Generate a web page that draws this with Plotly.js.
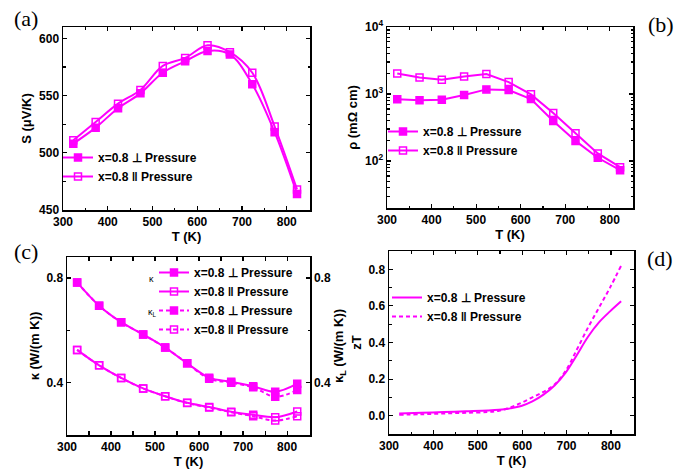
<!DOCTYPE html>
<html>
<head>
<meta charset="utf-8">
<script src="https://cdn.plot.ly/plotly-3.0.1.min.js"></script>
<style>html,body{margin:0;padding:0;background:#fff;}#chart{width:679px;height:472px;}</style>
</head>
<body>
<div id="chart"></div>
<script>
// ---- data ----
const T = [323, 373, 423, 473, 523, 573, 623, 673, 723, 773, 823];
const S_perp = [508, 522, 539, 552, 570, 580, 589, 586, 560, 518, 464];
const S_par = [511, 527, 543, 555, 576, 583, 594, 588, 570, 523, 468];
const rho_perp = [833, 806, 824, 967, 1173, 1146, 843, 397, 200, 112, 73];
const rho_par = [2026, 1770, 1632, 1829, 1982, 1507, 989, 522, 261, 130, 81];
const kappa_perp = [0.783, 0.694, 0.631, 0.584, 0.534, 0.474, 0.419, 0.403, 0.386, 0.365, 0.396];
const kappa_par = [0.525, 0.466, 0.418, 0.378, 0.348, 0.323, 0.307, 0.289, 0.277, 0.268, 0.290];
const kappaL_perp = [0.783, 0.694, 0.631, 0.584, 0.534, 0.474, 0.415, 0.400, 0.382, 0.346, 0.372];
const kappaL_par = [0.525, 0.466, 0.418, 0.378, 0.348, 0.322, 0.305, 0.287, 0.272, 0.255, 0.272];
const T_zT = [323, 373, 423, 473, 523, 548, 573, 598, 623, 648, 673, 698, 723, 748, 773, 798, 823];
const zT_perp = [0.012, 0.016, 0.020, 0.024, 0.028, 0.032, 0.040, 0.053, 0.078, 0.115, 0.165, 0.235, 0.330, 0.430, 0.510, 0.570, 0.625];
const zT_par = [0.005, 0.008, 0.012, 0.016, 0.020, 0.027, 0.045, 0.070, 0.100, 0.130, 0.170, 0.245, 0.360, 0.480, 0.590, 0.700, 0.820];
const labelPerp = 'x=0.8 \u22A5 Pressure';
const labelPar = 'x=0.8 \u2016 Pressure';

// ---- style ----
const MAG = '#ff00ff';
const FONT = 'Liberation Sans, Arial, sans-serif';
const W = 679, H = 472;
const px = v => v / W;
const py = v => 1 - v / H;

function tr(x, y, xa, ya, name, filled, dash, legend, spline, showMarker) {
  return {
    x: x, y: y, xaxis: xa, yaxis: ya, name: name, legend: legend,
    type: 'scatter',
    mode: showMarker === false ? 'lines' : 'lines+markers',
    line: {color: MAG, width: 2, dash: dash || 'solid', shape: spline ? 'spline' : 'linear'},
    marker: {symbol: filled ? 'square' : 'square-open', size: 7, color: MAG, line: {color: MAG, width: 1.5}}
  };
}

const data = [
  tr(T, S_perp, 'x', 'y', labelPerp, true, 'solid', 'legend', true),
  tr(T, S_par, 'x', 'y', labelPar, false, 'solid', 'legend', true),
  tr(T, rho_perp, 'x2', 'y2', labelPerp, true, 'solid', 'legend2', false),
  tr(T, rho_par, 'x2', 'y2', labelPar, false, 'solid', 'legend2', false),
  tr(T, kappa_perp, 'x3', 'y3', labelPerp, true, 'solid', 'legend3', true),
  tr(T, kappa_par, 'x3', 'y3', labelPar, false, 'solid', 'legend3', true),
  tr(T, kappaL_perp, 'x3', 'y5', labelPerp, true, '4px,3px', 'legend3', true),
  tr(T, kappaL_par, 'x3', 'y5', labelPar, false, '4px,3px', 'legend3', true),
  tr(T_zT, zT_perp, 'x4', 'y4', labelPerp, true, 'solid', 'legend4', true, false),
  tr(T_zT, zT_par, 'x4', 'y4', labelPar, false, '4px,3px', 'legend4', true, false)
];

const tickFont = {family: FONT, size: 12, color: '#000', weight: 'bold'};
const titleFont = {family: FONT, size: 13, color: '#000', weight: 'bold'};

function xax(dom, anchor) {
  return {
    domain: dom, anchor: anchor, range: [300, 852], dtick: 100, tick0: 300,
    ticks: 'inside', ticklen: 4, tickwidth: 1.2, tickcolor: '#000',
    showline: true, linecolor: '#000', linewidth: 1.5, mirror: 'allticks',
    showgrid: false, zeroline: false, tickfont: tickFont,
    minor: {ticks: 'inside', ticklen: 2.5, dtick: 50, tickcolor: '#000', showgrid: false},
    title: {text: 'T (K)', font: titleFont, standoff: 2}
  };
}
function yax(dom, anchor, range, dtick, minorD, title, fmt) {
  return {
    domain: dom, anchor: anchor, range: range, dtick: dtick, tickformat: fmt || '',
    ticks: 'inside', ticklen: 4, tickwidth: 1.2, tickcolor: '#000',
    showline: true, linecolor: '#000', linewidth: 1.5, mirror: 'allticks',
    showgrid: false, zeroline: false, tickfont: tickFont,
    minor: {ticks: 'inside', ticklen: 2.5, dtick: minorD, tickcolor: '#000', showgrid: false},
    title: {text: title, font: titleFont, standoff: 4}
  };
}

const yB = {
  domain: [py(208), py(27)], anchor: 'x2', type: 'log', range: [1.3, 4],
  tickvals: [100, 1000, 10000], ticktext: ['10<sup>2</sup>', '10<sup>3</sup>', '10<sup>4</sup>'],
  ticks: 'inside', ticklen: 4, tickwidth: 1.2, tickcolor: '#000',
  showline: true, linecolor: '#000', linewidth: 1.5, mirror: 'allticks',
  showgrid: false, zeroline: false, tickfont: tickFont,
  minor: {ticks: 'inside', ticklen: 2.5, tickcolor: '#000', showgrid: false,
          tickvals: [20,30,40,50,60,70,80,90,200,300,400,500,600,700,800,900,2000,3000,4000,5000,6000,7000,8000,9000]},
  title: {text: '\u03C1 (m\u03A9 cm)', font: titleFont, standoff: 4}
};

const legBase = {
  bgcolor: 'rgba(0,0,0,0)', borderwidth: 0, xanchor: 'left', yanchor: 'top',
  font: {family: FONT, size: 12, color: '#000', weight: 'bold'}, tracegroupgap: 0,
  itemwidth: 30, itemclick: false
};

const layout = {
  width: W, height: H, paper_bgcolor: '#fff', plot_bgcolor: '#fff',
  margin: {l: 0, r: 0, t: 0, b: 0}, showlegend: true,
  font: {family: FONT, color: '#000'},
  xaxis: xax([px(63), px(310)], 'y'),
  yaxis: yax([py(210), py(27)], 'x', [450, 610], 50, 25, 'S (\u03BCV/K)'),
  xaxis2: xax([px(387), px(633)], 'y2'),
  yaxis2: yB,
  xaxis3: xax([px(67), px(310)], 'y3'),
  yaxis3: yax([py(435), py(257)], 'x3', [0.2, 0.88], 0.4, 0.2, '\u03BA (W/(m K))', '.1f'),
  yaxis5: Object.assign(yax([py(435), py(257)], 'x3', [0.2, 0.88], 0.4, 0.2, '\u03BA<sub>L</sub> (W/(m K))', '.1f'),
                        {overlaying: 'y3', side: 'right', mirror: false}),
  xaxis4: xax([px(389), px(634)], 'y4'),
  yaxis4: yax([py(434), py(251)], 'x4', [-0.1, 0.9], 0.2, 0.1, 'zT', '.1f'),
  legend: Object.assign({}, legBase, {x: px(58), y: py(143)}),
  legend2: Object.assign({}, legBase, {x: px(383), y: py(117)}),
  legend3: Object.assign({}, legBase, {x: px(154), y: py(258)}),
  legend4: Object.assign({}, legBase, {x: px(387), y: py(283)}),
  annotations: [
    {text: '(a)', x: px(12), y: py(4), xref: 'paper', yref: 'paper', xanchor: 'left', yanchor: 'top', showarrow: false,
     font: {family: 'Liberation Serif, Times New Roman, serif', size: 22, color: '#000'}},
    {text: '(b)', x: px(646), y: py(10), xref: 'paper', yref: 'paper', xanchor: 'left', yanchor: 'top', showarrow: false,
     font: {family: 'Liberation Serif, Times New Roman, serif', size: 22, color: '#000'}},
    {text: '(c)', x: px(12), y: py(237), xref: 'paper', yref: 'paper', xanchor: 'left', yanchor: 'top', showarrow: false,
     font: {family: 'Liberation Serif, Times New Roman, serif', size: 22, color: '#000'}},
    {text: '(d)', x: px(645), y: py(244), xref: 'paper', yref: 'paper', xanchor: 'left', yanchor: 'top', showarrow: false,
     font: {family: 'Liberation Serif, Times New Roman, serif', size: 22, color: '#000'}},
    {text: '\u03BA', x: px(151), y: py(279), xref: 'paper', yref: 'paper', xanchor: 'center', yanchor: 'middle', showarrow: false,
     font: {family: FONT, size: 9, color: '#000'}},
    {text: '\u03BA<sub>L</sub>', x: px(152), y: py(312), xref: 'paper', yref: 'paper', xanchor: 'center', yanchor: 'middle', showarrow: false,
     font: {family: FONT, size: 9, color: '#000'}}
  ]
};

Plotly.newPlot('chart', data, layout, {displayModeBar: false, staticPlot: true});
</script>
</body>
</html>
